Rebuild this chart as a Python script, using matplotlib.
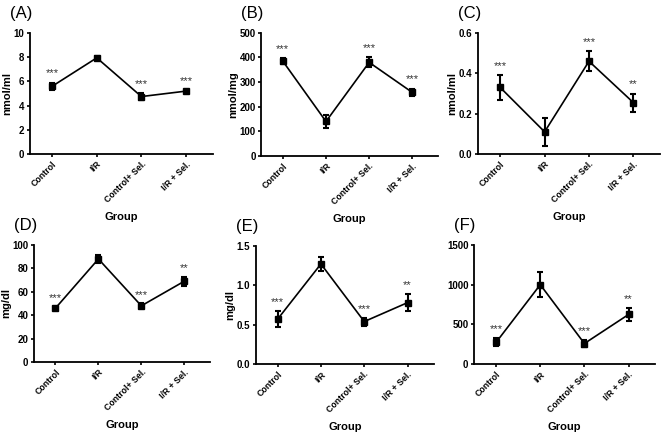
import matplotlib.pyplot as plt
import numpy as np

plt.rcParams['font.family'] = ['Liberation Sans', 'DejaVu Sans']

groups = ["Control", "I/R", "Control+ Sel.", "I/R + Sel."]

a_mean = [5.6, 7.95, 4.75, 5.2]
a_err = [0.3, 0.15, 0.3, 0.1]
b_mean = [385, 140, 380, 258]
b_err = [12, 25, 20, 15]
c_mean = [0.33, 0.11, 0.46, 0.255]
c_err = [0.06, 0.07, 0.05, 0.045]
d_mean = [46, 88, 48, 69]
d_err = [1, 3.5, 2, 4]
e_mean = [0.57, 1.27, 0.54, 0.78]
e_err = [0.1, 0.09, 0.05, 0.11]
f_mean = [275, 1000, 260, 625]
f_err = [50, 160, 40, 85]

a_stars = ["***", "", "***", "***"]
b_stars = ["***", "", "***", "***"]
c_stars = ["***", "", "***", "**"]
d_stars = ["***", "", "***", "**"]
e_stars = ["***", "", "***", "**"]
f_stars = ["***", "", "***", "**"]

panels = [
    ("(A)", a_mean, a_err, a_stars, "nmol/ml", (0, 10), [0, 2, 4, 6, 8, 10], "%d",
     [0.045, 0.6435, 0.276, 0.28]),
    ("(B)", b_mean, b_err, b_stars, "nmol/mg", (0, 500), [0, 100, 200, 300, 400, 500], "%d",
     [0.394, 0.639, 0.267, 0.285]),
    ("(C)", c_mean, c_err, c_stars, "nmol/ml", (0, 0.6), [0, 0.2, 0.4, 0.6], "%.1f",
     [0.721, 0.6435, 0.2745, 0.28]),
    ("(D)", d_mean, d_err, d_stars, "mg/dl", (0, 100), [0, 20, 40, 60, 80, 100], "%d",
     [0.0513, 0.162, 0.2655, 0.271]),
    ("(E)", e_mean, e_err, e_stars, "mg/dl", (0, 1.5), [0, 0.5, 1.0, 1.5], "%.1f",
     [0.386, 0.157, 0.268, 0.274]),
    ("(F)", f_mean, f_err, f_stars, "", (0, 1500), [0, 500, 1000, 1500], "%d",
     [0.715, 0.157, 0.273, 0.276]),
]

fig = plt.figure(figsize=(6.63, 4.32), dpi=100)

for tag, mean, err, stars, ylab, ylim, yticks, fmt, pos in panels:
    ax = fig.add_axes(pos)
    x = np.arange(len(groups))
    ax.errorbar(x, mean, yerr=err, fmt='s-', color='black', ms=4, lw=1.2,
                elinewidth=1.5, capsize=2.5, capthick=1.5)
    span = ylim[1] - ylim[0]
    for xi, m, e, s in zip(x, mean, err, stars):
        if s:
            ax.text(xi, m + e + span * 0.075, s, ha='center', va='center',
                    fontsize=8, color='#333333')
    ax.set_xlim(-0.5, 3.6)
    ax.set_ylim(*ylim)
    ax.set_yticks(yticks)
    ax.set_yticklabels([fmt % t for t in yticks], fontsize=7, fontweight='bold')
    ax.set_xticks(x)
    ax.set_xticklabels(groups, rotation=45, ha='right', rotation_mode='anchor',
                       fontsize=6.3, fontweight='bold')
    ax.spines['top'].set_visible(False)
    ax.spines['right'].set_visible(False)
    ax.spines['left'].set_linewidth(1.3)
    ax.spines['bottom'].set_linewidth(1.3)
    ax.tick_params(width=1.2, length=2.5, pad=1.5)
    ax.set_xlabel("Group", fontsize=8, fontweight='bold', labelpad=5)
    if ylab:
        ax.set_ylabel(ylab, fontsize=8, fontweight='bold', labelpad=1)
    fig.text(pos[0] - 0.03, pos[1] + pos[3] + 0.045, tag, fontsize=12, va='center')

plt.savefig("out.png", dpi=100)
